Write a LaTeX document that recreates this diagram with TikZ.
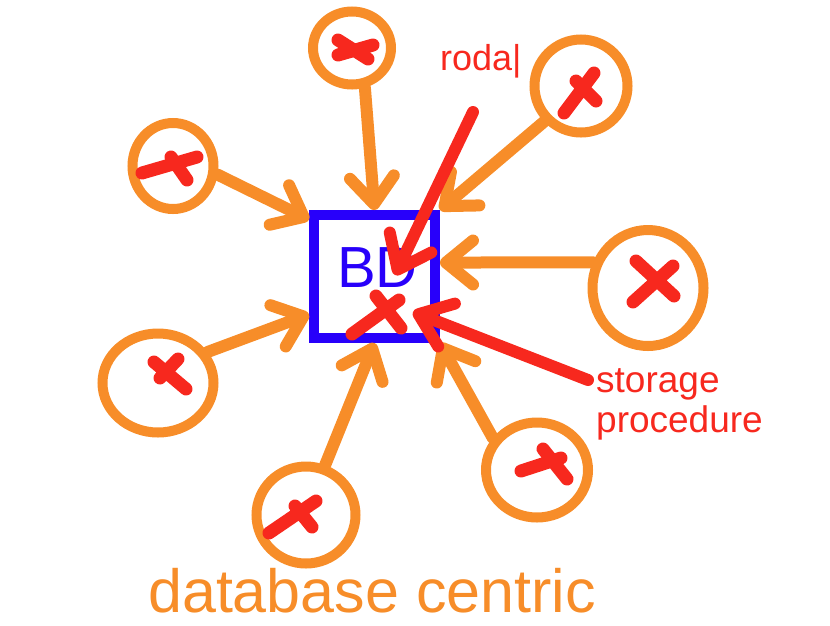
\documentclass[tikz,border=0pt]{standalone}
\usepackage{fontspec}
\setmainfont{Liberation Sans}
\usepackage{xcolor}
\usepackage{tikz}
\usetikzlibrary{positioning,arrows.meta,shapes.geometric}

\definecolor{clientorange}{RGB}{247,141,41}
\definecolor{markred}{RGB}{247,40,30}
\definecolor{dbblue}{RGB}{40,0,250}

\tikzset{
  client/.style={draw=clientorange, line width=10pt, ellipse, inner sep=0pt},
  dbbox/.style={draw=dbblue, line width=10pt, rectangle, minimum width=121pt, minimum height=123pt, inner sep=0pt},
  call/.style={draw=clientorange, line width=12pt, line cap=round, -{Straight Barb[length=27pt,width=44pt,round]}},
  note/.style={draw=markred, line width=12pt, line cap=round, -{Straight Barb[length=30pt,width=46pt,round]}},
  xmark/.style={draw=markred, line width=13pt, line cap=round},
  redtext/.style={text=markred, font=\fontsize{37}{40}\selectfont, inner sep=0pt, anchor=base west},
}

\begin{document}
\begin{tikzpicture}[x=1pt,y=-1pt]
\useasboundingbox (0,0) rectangle (830,625);

\node[dbbox] (bd) at (374.5,276.5) {};
\node[text=dbblue, font=\fontsize{58}{60}\selectfont, inner sep=0pt, anchor=base west] (bdlabel) at (337,287) {BD};

\node[client, minimum width=78pt, minimum height=73pt] (ctop) at (352,48) {};
\node[client, minimum width=93pt, minimum height=93pt] (ctopright) at (581,86) {};
\node[client, minimum width=81pt, minimum height=86pt] (cleft) at (173,166) {};
\node[client, minimum width=111pt, minimum height=116pt] (cright) at (648,288) {};
\node[client, minimum width=111pt, minimum height=99pt] (cleftlow) at (158,383) {};
\node[client, minimum width=102pt, minimum height=95pt] (cbottomright) at (537,470) {};
\node[client, minimum width=99pt, minimum height=97pt] (cbottom) at (306,515) {};

\draw[call] (ctop.-72) -- (bd.north);
\draw[call] (ctopright.-136) -- (bd.north east);
\draw[call] (cleft.-11) -- (bd.139);
\draw[call] (cright.155) -- (bd.12);
\draw[call] (cleftlow.32) -- (bd.210);
\draw[call] (cbottom.69) -- (bd.south);
\draw[call] (cbottomright.144) -- (bd.south east);

\draw[xmark] (338,40) -- (368,59) (338,55) -- (373,45);
\draw[xmark] (564,113) -- (594,73) (576,81) -- (596,101);
\draw[xmark] (142,173) -- (197,157) (171,157) -- (187,180);
\draw[xmark] (633,302) -- (673,266) (636,261) -- (674,296);
\draw[xmark] (154,362) -- (186,389) (178,359) -- (160,378);
\draw[xmark] (521,471) -- (561,458) (543,449) -- (567,479);
\draw[xmark] (269,533) -- (316,501) (295,506) -- (312,527);
\draw[xmark] (352,334) -- (399,300) (376,296) -- (401,328);

\node[redtext, font=\fontsize{36}{40}\selectfont] (roda) at (440,70) {roda|};
\node[redtext] (storage) at (596,392) {storage};
\node[redtext] (procedure) at ([yshift=-40pt]storage.base west) {procedure};

\coordinate (rodafoot) at (473,112);
\coordinate (rodatip) at (395,275);
\draw[note] (rodafoot) -- (rodatip);
\coordinate (storagefoot) at (588,380);
\coordinate (storagetip) at (413,312);
\draw[note] (storagefoot) -- (storagetip);

\node[text=clientorange, font=\fontsize{61}{64}\selectfont, inner sep=0pt, anchor=base west] (caption) at (148,612) {database centric};
\end{tikzpicture}
\end{document}
